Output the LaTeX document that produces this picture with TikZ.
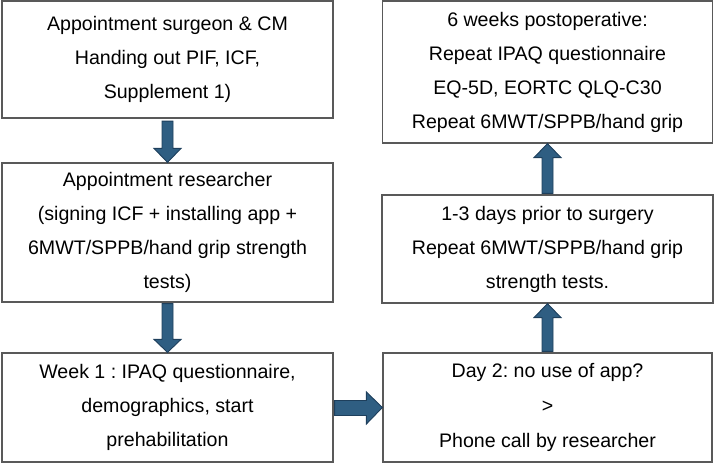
\documentclass[tikz,border=0pt]{standalone}
\usepackage{fontspec}
\setmainfont{Liberation Sans}
\usetikzlibrary{calc}
\definecolor{arrfill}{HTML}{2F5E82}
\definecolor{arrline}{HTML}{1E3F5C}
\definecolor{boxline}{HTML}{595959}
\tikzset{
  stepbox/.style={draw=boxline, line width=1.2pt, fill=white, align=center,
    inner sep=0pt, font=\frenchspacing\fontsize{19.6pt}{34pt}\selectfont},
  blockarr/.style={fill=arrfill, draw=arrline, line width=0.9pt, line join=miter}
}
\begin{document}
\begin{tikzpicture}[x=1pt,y=-1pt]
\useasboundingbox (0,0) rectangle (715,464);
\node[stepbox, minimum width=331pt, minimum height=117pt] (A) at (167.5,59.5)
  {Appointment surgeon \& CM\\Handing out PIF, ICF,\\Supplement 1)};
\node[stepbox, minimum width=331pt, minimum height=139pt] (B) at (167.5,232.5)
  {Appointment researcher\\(signing ICF + installing app +\\6MWT/SPPB/hand grip strength\\tests)};
\node[stepbox, minimum width=331pt, minimum height=109pt] (C) at (167.5,407.5)
  {Week 1 : IPAQ questionnaire,\\demographics, start\\prehabilitation};
\node[stepbox, minimum width=329pt, minimum height=109pt, font=\frenchspacing\fontsize{19.6pt}{35pt}\selectfont] (D) at (547.5,407.5)
  {Day 2: no use of app?\\>\\Phone call by researcher};
\node[stepbox, minimum width=331pt, minimum height=108pt] (E) at (547.5,249)
  {1-3 days prior to surgery\\Repeat 6MWT/SPPB/hand grip\\strength tests.};
\node[stepbox, minimum width=330pt, minimum height=142pt] (F) at (547.5,72)
  {6 weeks postoperative:\\Repeat IPAQ questionnaire\\EQ-5D, EORTC QLQ-C30\\Repeat 6MWT/SPPB/hand grip};
% A -> B (down)
\draw[blockarr] ([xshift=-5.5pt,yshift=-2.5pt]A.south) -- ([xshift=-5.5pt,yshift=14pt]B.north)
  -- ([xshift=-13.5pt,yshift=14pt]B.north) -- (B.north) -- ([xshift=13.5pt,yshift=14pt]B.north)
  -- ([xshift=5.5pt,yshift=14pt]B.north) -- ([xshift=5.5pt,yshift=-2.5pt]A.south) -- cycle;
% B -> C (down)
\draw[blockarr] ([xshift=-5.5pt,yshift=-1pt]B.south) -- ([xshift=-5.5pt,yshift=13pt]C.north)
  -- ([xshift=-13.5pt,yshift=13pt]C.north) -- (C.north) -- ([xshift=13.5pt,yshift=13pt]C.north)
  -- ([xshift=5.5pt,yshift=13pt]C.north) -- ([xshift=5.5pt,yshift=-1pt]B.south) -- cycle;
% C -> D (right)
\draw[blockarr] ([xshift=1pt,yshift=7pt]C.east) -- ([xshift=-16pt,yshift=7pt]D.west)
  -- ([xshift=-16pt,yshift=15.5pt]D.west) -- (D.west) -- ([xshift=-16pt,yshift=-16.5pt]D.west)
  -- ([xshift=-16pt,yshift=-8pt]D.west) -- ([xshift=1pt,yshift=-8pt]C.east) -- cycle;
% D -> E (up)
\draw[blockarr] ([xshift=-5.5pt,yshift=1pt]D.north) -- ([xshift=-5.5pt,yshift=-14pt]E.south)
  -- ([xshift=-13.5pt,yshift=-14pt]E.south) -- (E.south) -- ([xshift=13.5pt,yshift=-14pt]E.south)
  -- ([xshift=5.5pt,yshift=-14pt]E.south) -- ([xshift=5.5pt,yshift=1pt]D.north) -- cycle;
% E -> F (up)
\draw[blockarr] ([xshift=-5.5pt,yshift=1pt]E.north) -- ([xshift=-5.5pt,yshift=-14pt]F.south)
  -- ([xshift=-13.5pt,yshift=-14pt]F.south) -- (F.south) -- ([xshift=13.5pt,yshift=-14pt]F.south)
  -- ([xshift=5.5pt,yshift=-14pt]F.south) -- ([xshift=5.5pt,yshift=1pt]E.north) -- cycle;
\end{tikzpicture}
\end{document}
